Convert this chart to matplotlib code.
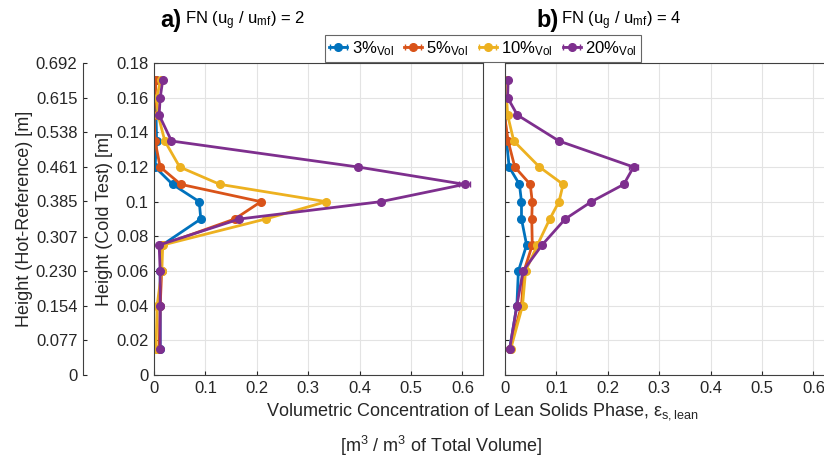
import matplotlib.pyplot as plt

plt.rcParams['font.family'] = ['Liberation Sans Narrow', 'Liberation Sans', 'DejaVu Sans']
plt.rcParams['mathtext.fontset'] = 'custom'
plt.rcParams['mathtext.rm'] = 'Liberation Sans'
plt.rcParams['mathtext.it'] = 'Liberation Sans:italic'

# heights of the measuring points (cold test) [m]
heights = [0.17, 0.16, 0.15, 0.135, 0.12, 0.11, 0.10, 0.09, 0.075, 0.06, 0.04, 0.015]

# a) FN = 2
a_3 = [0.004, 0.0, 0.004, 0.005, 0.002, 0.036, 0.088, 0.091, 0.016, 0.012, 0.012, 0.012]
a_5 = [0.004, 0.002, 0.0, 0.002, 0.012, 0.052, 0.208, 0.157, 0.015, 0.015, 0.012, 0.010]
a_10 = [0.013, 0.005, 0.008, 0.021, 0.050, 0.128, 0.335, 0.217, 0.017, 0.015, 0.006, 0.004]
a_20 = [0.017, 0.012, 0.010, 0.034, 0.397, 0.604, 0.441, 0.166, 0.010, 0.012, 0.012, 0.012]
a_20_err = [0.002, 0.002, 0.002, 0.003, 0.005, 0.010, 0.003, 0.004, 0.002, 0.002, 0.002, 0.002]

# b) FN = 4
b_3 = [0.0, 0.0, 0.0, 0.003, 0.008, 0.028, 0.032, 0.032, 0.042, 0.026, 0.023, 0.009]
b_5 = [-0.002, 0.0, -0.001, 0.006, 0.019, 0.049, 0.053, 0.052, 0.053, 0.037, 0.032, 0.009]
b_10 = [0.001, 0.003, 0.005, 0.017, 0.067, 0.113, 0.105, 0.087, 0.063, 0.040, 0.034, 0.011]
b_20 = [0.006, 0.005, 0.024, 0.105, 0.250, 0.231, 0.168, 0.117, 0.072, 0.035, 0.023, 0.009]
b_20_err = [0.002, 0.002, 0.002, 0.003, 0.008, 0.006, 0.003, 0.006, 0.004, 0.002, 0.002, 0.004]

labels = ['3%$_{\\mathrm{Vol}}$', '5%$_{\\mathrm{Vol}}$', '10%$_{\\mathrm{Vol}}$', '20%$_{\\mathrm{Vol}}$']
colors = ['#0072BD', '#D95319', '#EDB120', '#7E2F8E']

cold_ticks = [0, 0.02, 0.04, 0.06, 0.08, 0.1, 0.12, 0.14, 0.16, 0.18]
hot_ticks = [0, 0.077, 0.154, 0.230, 0.307, 0.385, 0.461, 0.538, 0.615, 0.692]
hot_labels = ['0', '0.077', '0.154', '0.230', '0.307', '0.385', '0.461', '0.538', '0.615', '0.692']
x_ticks = [0, 0.1, 0.2, 0.3, 0.4, 0.5, 0.6]

fig = plt.figure(figsize=(8.24, 4.65), dpi=100)
ax_a = fig.add_axes([0.1869, 0.1935, 0.3993, 0.671])
ax_b = fig.add_axes([0.6129, 0.1935, 0.3993, 0.671])
ax_hot = fig.add_axes([0.1007, 0.1935, 0.001, 0.671])

spine_col = '#404040'
for ax, series in [(ax_a, [a_3, a_5, a_10, a_20]), (ax_b, [b_3, b_5, b_10, b_20])]:
    err20 = a_20_err if ax is ax_a else b_20_err
    for i, (vals, lab, col) in enumerate(zip(series, labels, colors)):
        err = err20 if i == 3 else [0.002] * len(vals)
        ax.errorbar(vals, heights, xerr=err, color=col, lw=2, marker='o', ms=5.5,
                    capsize=2, elinewidth=1.2, label=lab)
    ax.set_xlim(0, 0.64)
    ax.set_ylim(0, 0.18)
    ax.set_xticks(x_ticks)
    ax.set_xticklabels(['0', '0.1', '0.2', '0.3', '0.4', '0.5', '0.6'])
    ax.set_yticks(cold_ticks)
    ax.grid(True, color='#e3e3e3', lw=0.8)
    ax.set_axisbelow(True)
    ax.tick_params(direction='in', length=3, labelsize=12, colors='#262626', pad=4)
    for s in ax.spines.values():
        s.set_color(spine_col)
        s.set_linewidth(0.8)

ax_a.set_yticklabels(['0', '0.02', '0.04', '0.06', '0.08', '0.1', '0.12', '0.14', '0.16', '0.18'])
ax_a.set_ylabel('Height (Cold Test) [m]', fontsize=13, color='#262626', labelpad=2)
ax_b.set_yticklabels([])

# outer axis in hot-reference heights
ax_hot.set_ylim(0, 0.692)
ax_hot.set_yticks(hot_ticks)
ax_hot.set_yticklabels(hot_labels)
ax_hot.set_xticks([])
for side in ['top', 'right', 'bottom']:
    ax_hot.spines[side].set_visible(False)
ax_hot.spines['left'].set_color(spine_col)
ax_hot.spines['left'].set_linewidth(0.8)
ax_hot.tick_params(axis='y', direction='in', length=3, labelsize=12, colors='#262626', pad=4)
ax_hot.set_ylabel('Height (Hot-Reference) [m]', fontsize=13, color='#262626', labelpad=2)
ax_hot.patch.set_visible(False)

fig.text(0.195, 0.955, 'a)', fontsize=17, fontweight='bold', ha='left', va='center')
fig.text(0.225, 0.955, 'FN (u$_{\\mathrm{g}}$ / u$_{\\mathrm{mf}}$) = 2', fontsize=12, ha='left', va='center')
fig.text(0.651, 0.955, 'b)', fontsize=17, fontweight='bold', ha='left', va='center')
fig.text(0.681, 0.955, 'FN (u$_{\\mathrm{g}}$ / u$_{\\mathrm{mf}}$) = 4', fontsize=12, ha='left', va='center')

fig.text(0.585, 0.115, 'Volumetric Concentration of Lean Solids Phase, ε$_{\\mathrm{s,lean}}$',
         fontsize=13, ha='center', va='center', color='#262626')
fig.text(0.535, 0.04, '[m$^{3}$ / m$^{3}$ of Total Volume]',
         fontsize=13, ha='center', va='center', color='#262626')

handles, labs = ax_a.get_legend_handles_labels()
leg = fig.legend(handles, labs, ncol=4, loc='center', bbox_to_anchor=(0.586, 0.896),
                 fontsize=12, frameon=True, fancybox=False, handlelength=1.1,
                 handletextpad=0.25, columnspacing=0.6, borderpad=0.25, borderaxespad=0)
leg.get_frame().set_edgecolor('#404040')
leg.get_frame().set_linewidth(0.8)

plt.savefig('out.png', dpi=100)
